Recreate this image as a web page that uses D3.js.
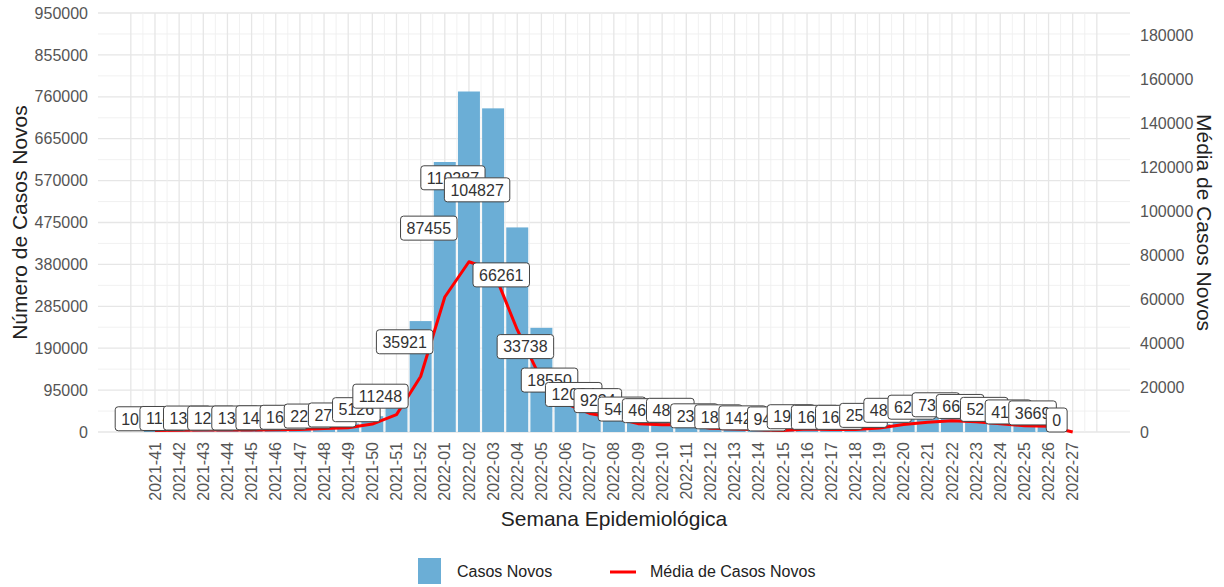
<!DOCTYPE html>
<meta charset="utf-8"/>
<head>
<style>
  body { margin:0; background:#fff; }
  text { font-family: "Liberation Sans", Arial, sans-serif; }
</style>
<script src="https://cdn.jsdelivr.net/npm/d3@7"></script>
</head>
<body>
<script>
// semanas epidemiologicas
var semanas = ["2021-41","2021-42","2021-43","2021-44","2021-45","2021-46","2021-47","2021-48","2021-49","2021-50",
  "2021-51","2021-52","2022-01","2022-02","2022-03","2022-04","2022-05","2022-06","2022-07","2022-08",
  "2022-09","2022-10","2022-11","2022-12","2022-13","2022-14","2022-15","2022-16","2022-17","2022-18",
  "2022-19","2022-20","2022-21","2022-22","2022-23","2022-24","2022-25","2022-26","2022-27"];

// casos novos por semana (eixo esquerdo)
var casosNovos = [7084, 8015, 9338, 9030, 9492, 10269, 11823, 15715, 19138, 35882,
  78736, 251447, 612185, 772009, 733789, 463827, 236166, 129850, 84238, 64638,
  37884, 32900, 33950, 16450, 13230, 9940, 6615, 13580, 11690, 11620,
  17885, 33950, 43820, 51450, 46200, 36925, 28770, 25683, 0];

// media de casos (rotulos, eixo direito)
var mediaCasos = [1012, 1145, 1334, 1290, 1356, 1467, 1689, 2245, 2734, 5126,
  11248, 35921, 87455, 110287, 104827, 66261, 33738, 18550, 12034, 9234,
  5412, 4690, 4850, 2350, 1890, 1420, 945, 1940, 1670, 1660,
  2555, 4850, 6260, 7350, 6600, 5275, 4110, 3669, 0];

// linha vermelha (eixo direito)
var linhaMedia = [710, 800, 930, 900, 950, 1030, 1180, 1570, 1910, 3590,
  7870, 25140, 61220, 77200, 73380, 46380, 23620, 12990, 8420, 6460,
  3790, 3290, 3400, 1650, 1320, 990, 660, 1360, 1170, 1160,
  1790, 3400, 4380, 5150, 4620, 3690, 2880, 2570, 0];

var ticksEsq = [0, 95000, 190000, 285000, 380000, 475000, 570000, 665000, 760000, 855000, 950000];
var ticksDir = [0, 20000, 40000, 60000, 80000, 100000, 120000, 140000, 160000, 180000];

var width = 1224, height = 587;
var pLeft = 98, pRight = 1130, pTop = 13, pBottom = 432;

var svg = d3.select("body").append("svg")
  .attr("width", width)
  .attr("height", height);

var x = d3.scaleLinear().domain([-2.36, 40.373]).range([pLeft, pRight]);
var y = d3.scaleLinear().domain([0, 950000]).range([pBottom, pTop]);
var y2 = d3.scaleLinear().domain([0, 190000]).range([pBottom, pTop]);

// grade
var grid = svg.append("g");
var minorY = ticksEsq.slice(1).map(function(t){ return t - 47500; });
grid.selectAll(".hmin").data(minorY).enter().append("line")
  .attr("x1", pLeft).attr("x2", pRight)
  .attr("y1", function(d){ return y(d); }).attr("y2", function(d){ return y(d); })
  .attr("stroke", "#efefef").attr("stroke-width", 0.9);
grid.selectAll(".hmaj").data(ticksEsq).enter().append("line")
  .attr("x1", pLeft).attr("x2", pRight)
  .attr("y1", function(d){ return y(d); }).attr("y2", function(d){ return y(d); })
  .attr("stroke", "#e6e6e6").attr("stroke-width", 1.3);

var vpos = d3.range(-1, 39.01, 0.5);
grid.selectAll(".v").data(vpos).enter().append("line")
  .attr("y1", pTop).attr("y2", pBottom)
  .attr("x1", function(d){ return x(d); }).attr("x2", function(d){ return x(d); })
  .attr("stroke", function(d){ return d % 1 === 0 ? "#e6e6e6" : "#efefef"; })
  .attr("stroke-width", function(d){ return d % 1 === 0 ? 1.3 : 0.9; });

// barras
var step = x(1) - x(0);
var bw = step * 0.91;
svg.append("g").selectAll("rect").data(casosNovos).enter().append("rect")
  .attr("x", function(d, i){ return x(i) - bw / 2; })
  .attr("width", bw)
  .attr("y", function(d){ return y(d); })
  .attr("height", function(d){ return pBottom - y(d); })
  .attr("fill", "#6baed6");

// linha media
var line = d3.line()
  .x(function(d, i){ return x(i); })
  .y(function(d){ return y2(d); });
svg.append("path").datum(linhaMedia)
  .attr("d", line)
  .attr("fill", "none")
  .attr("stroke", "#ff0000")
  .attr("stroke-width", 3)
  .attr("stroke-linejoin", "round");

// rotulos
var labels = svg.append("g");
mediaCasos.forEach(function(v, i){
  var g = labels.append("g");
  var rect = g.append("rect");
  var t = g.append("text")
    .attr("font-size", 16)
    .attr("fill", "#333")
    .attr("text-anchor", "middle")
    .text(v);
  var w = t.node().getComputedTextLength() + 12;
  var h = 24;
  var cx = x(i) - 16;
  var cy = y2(v) - 11;
  cy = Math.min(cy, pBottom - h / 2);
  cy = Math.max(cy, pTop + h / 2);
  rect.attr("x", cx - w / 2).attr("y", cy - h / 2)
    .attr("width", w).attr("height", h)
    .attr("rx", 3)
    .attr("fill", "#fff")
    .attr("stroke", "#444")
    .attr("stroke-width", 1);
  t.attr("x", cx).attr("y", cy).attr("dy", "0.36em");
});

// eixo esquerdo
svg.append("g").selectAll("text").data(ticksEsq).enter().append("text")
  .attr("x", pLeft - 10)
  .attr("y", function(d){ return y(d); })
  .attr("dy", "0.35em")
  .attr("text-anchor", "end")
  .attr("font-size", 16)
  .attr("fill", "#555")
  .text(function(d){ return d; });

// eixo direito
svg.append("g").selectAll("text").data(ticksDir).enter().append("text")
  .attr("x", pRight + 10)
  .attr("y", function(d){ return y2(d); })
  .attr("dy", "0.35em")
  .attr("text-anchor", "start")
  .attr("font-size", 16)
  .attr("fill", "#555")
  .text(function(d){ return d; });

// eixo x
svg.append("g").selectAll("text").data(semanas).enter().append("text")
  .attr("transform", function(d, i){ return "translate(" + x(i) + "," + (pBottom + 10) + ") rotate(-90)"; })
  .attr("dy", "0.35em")
  .attr("text-anchor", "end")
  .attr("font-size", 16)
  .attr("fill", "#555")
  .text(function(d){ return d; });

// titulos
svg.append("text")
  .attr("x", (pLeft + pRight) / 2).attr("y", 526)
  .attr("text-anchor", "middle")
  .attr("font-size", 21)
  .attr("fill", "#222")
  .text("Semana Epidemiológica");

svg.append("text")
  .attr("transform", "translate(27," + ((pTop + pBottom) / 2) + ") rotate(-90)")
  .attr("text-anchor", "middle")
  .attr("font-size", 21)
  .attr("fill", "#222")
  .text("Número de Casos Novos");

svg.append("text")
  .attr("transform", "translate(1197," + ((pTop + pBottom) / 2) + ") rotate(90)")
  .attr("text-anchor", "middle")
  .attr("font-size", 21)
  .attr("fill", "#222")
  .text("Média de Casos Novos");

// legenda
var leg = svg.append("g");
leg.append("rect").attr("x", 418).attr("y", 558).attr("width", 23).attr("height", 26).attr("fill", "#6baed6");
leg.append("text").attr("x", 457).attr("y", 577).attr("font-size", 16).attr("fill", "#222").text("Casos Novos");
leg.append("line").attr("x1", 610).attr("x2", 636).attr("y1", 572).attr("y2", 572)
  .attr("stroke", "#ff0000").attr("stroke-width", 3);
leg.append("text").attr("x", 650).attr("y", 577).attr("font-size", 16).attr("fill", "#222").text("Média de Casos Novos");
</script>
</body>
